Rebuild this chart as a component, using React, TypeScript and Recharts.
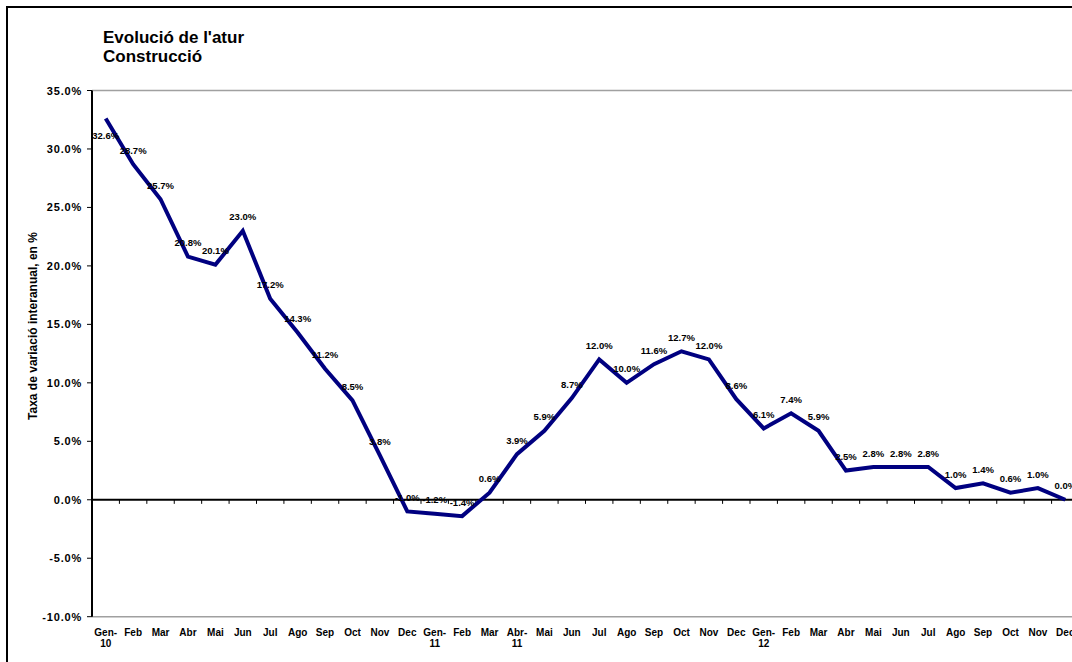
import React from 'react';
import { LineChart, Line, XAxis, YAxis, ReferenceLine, LabelList } from 'recharts';

const tickLabels: string[] = [
  'Gen-10', 'Feb', 'Mar', 'Abr', 'Mai', 'Jun', 'Jul', 'Ago', 'Sep', 'Oct', 'Nov', 'Dec',
  'Gen-11', 'Feb', 'Mar', 'Abr-11', 'Mai', 'Jun', 'Jul', 'Ago', 'Sep', 'Oct', 'Nov', 'Dec',
  'Gen-12', 'Feb', 'Mar', 'Abr', 'Mai', 'Jun', 'Jul', 'Ago', 'Sep', 'Oct', 'Nov', 'Dec',
];

const values: number[] = [
  32.6, 28.7, 25.7, 20.8, 20.1, 23.0, 17.2, 14.3, 11.2, 8.5, 3.8, -1.0,
  -1.2, -1.4, 0.6, 3.9, 5.9, 8.7, 12.0, 10.0, 11.6, 12.7, 12.0, 8.6,
  6.1, 7.4, 5.9, 2.5, 2.8, 2.8, 2.8, 1.0, 1.4, 0.6, 1.0, 0.0,
];

const yTicks: number[] = [-10, -5, 0, 5, 10, 15, 20, 25, 30, 35];

const titleLines: string[] = ["Evolució de l'atur", 'Construcció'];
const yAxisTitle = 'Taxa de variació interanual, en %';

const data = values.map((v, i) => ({ i, label: tickLabels[i], value: v }));
const indices = data.map((d) => d.i);
const boundaries = [...indices.map((i) => i - 0.5), indices.length - 0.5];

const FONT = '"Liberation Sans", Arial, Helvetica, sans-serif';

const XTick = (props: any) => {
  const { x, y, payload } = props;
  const lbl = tickLabels[payload.value] ?? '';
  const m = lbl.match(/^(\w+)-(\d+)$/);
  const lines = m ? [m[1] + '-', m[2]] : [lbl];
  return (
    <g transform={`translate(${x},${y})`}>
      {lines.map((t, k) => (
        <text
          key={k}
          x={0}
          y={k * 11}
          dy={11}
          textAnchor="middle"
          fontFamily={FONT}
          fontWeight="bold"
          fontSize={10}
          fill="#000"
        >
          {t}
        </text>
      ))}
    </g>
  );
};

const YTick = (props: any) => {
  const { x, y, payload } = props;
  return (
    <text
      x={x}
      y={y}
      dy={4}
      textAnchor="end"
      fontFamily={FONT}
      fontWeight="bold"
      fontSize={11}
      letterSpacing={0.8}
      fill="#000"
    >
      {payload.value.toFixed(1) + '%'}
    </text>
  );
};

const renderLabel = (props: any) => {
  const { x, y, value, index } = props;
  const below = index === 0;
  return (
    <text
      x={x}
      y={below ? y + 20 : y - 10.5}
      textAnchor="middle"
      fontFamily={FONT}
      fontWeight="bold"
      fontSize={9.5}
      fill="#000"
    >
      {Number(value).toFixed(1) + '%'}
    </text>
  );
};

export default function App() {
  return (
    <div
      style={{
        position: 'fixed',
        left: 6,
        top: 6,
        width: 1100,
        height: 700,
        borderLeft: '2px solid #000',
        borderTop: '2px solid #000',
        background: '#fff',
        overflow: 'hidden',
        fontFamily: FONT,
      }}
    >
      <div
        style={{
          position: 'absolute',
          left: 95,
          top: 20,
          fontSize: 17,
          lineHeight: '19px',
          fontWeight: 'bold',
          color: '#000',
          whiteSpace: 'nowrap',
        }}
      >
        {titleLines.map((t, k) => (
          <div key={k}>{t}</div>
        ))}
      </div>
      <div
        style={{
          position: 'absolute',
          left: 25,
          top: 318,
          transform: 'translate(-50%, -50%) rotate(-90deg)',
          fontSize: 12,
          fontWeight: 'bold',
          color: '#000',
          whiteSpace: 'nowrap',
        }}
      >
        {yAxisTitle}
      </div>
      <LineChart
        width={1081}
        height={660}
        data={data}
        margin={{ top: 82.5, right: 10, bottom: 21.3, left: 24 }}
      >
        <XAxis
          dataKey="i"
          type="number"
          domain={[-0.5, 35.5]}
          ticks={indices}
          interval={0}
          axisLine={false}
          tickLine={false}
          tick={<XTick />}
          height={30}
        />
        <YAxis
          type="number"
          domain={[-10, 35]}
          ticks={yTicks}
          interval={0}
          width={60}
          axisLine={{ stroke: '#000', strokeWidth: 2 }}
          tickLine={{ stroke: '#000', strokeWidth: 1 }}
          tickSize={5}
          tickMargin={5}
          tick={<YTick />}
        />
        <ReferenceLine y={35} stroke="#a0a0a0" strokeWidth={1.5} />
        <ReferenceLine y={-10} stroke="#a0a0a0" strokeWidth={1.5} />
        <ReferenceLine y={0} stroke="#000" strokeWidth={2} />
        {boundaries.map((b) => (
          <ReferenceLine
            key={b}
            segment={[
              { x: b, y: 0 },
              { x: b, y: -0.35 },
            ]}
            stroke="#000"
            strokeWidth={1}
          />
        ))}
        <Line
          type="linear"
          dataKey="value"
          stroke="#000080"
          strokeWidth={4}
          dot={false}
          isAnimationActive={false}
        >
          <LabelList dataKey="value" content={renderLabel} />
        </Line>
      </LineChart>
    </div>
  );
}
